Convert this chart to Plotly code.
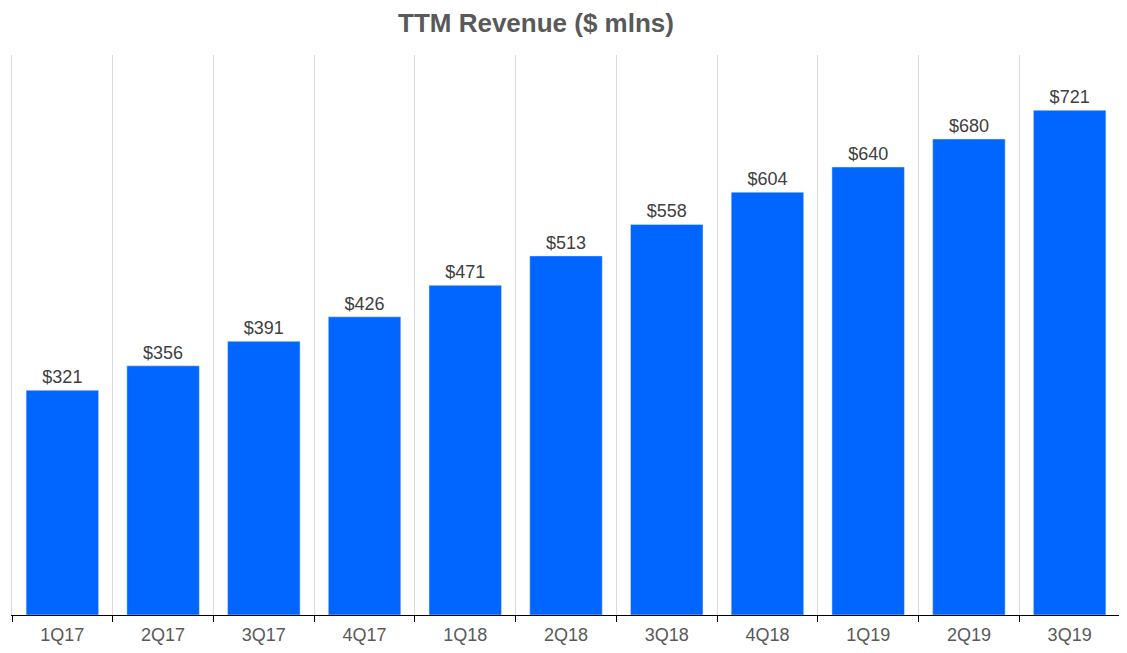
import plotly.graph_objects as go

# TTM revenue by quarter ($ mlns)
quarters = ["1Q17", "2Q17", "3Q17", "4Q17", "1Q18", "2Q18", "3Q18", "4Q18", "1Q19", "2Q19", "3Q19"]
revenue = [321, 356, 391, 426, 471, 513, 558, 604, 640, 680, 721]
labels = ["$" + str(v) for v in revenue]

# page body adds an 8px margin, so the figure is a bit smaller than the window
W, H = 1119, 645

fig = go.Figure()
fig.add_trace(go.Bar(
    x=quarters,
    y=revenue,
    text=labels,
    textposition="outside",
    textfont=dict(size=18, color="#404040"),
    marker_color="#0066FF",
    cliponaxis=False,
))

fig.update_layout(
    width=W,
    height=H,
    # title sits a little left of centre in the original
    title=dict(text="<b>TTM Revenue ($ mlns)</b>", x=528 / W, xanchor="center",
               y=1 - 15 / H, yanchor="middle",
               font=dict(size=26, color="#595959")),
    font=dict(family="Liberation Sans, Arial, sans-serif"),
    plot_bgcolor="white",
    paper_bgcolor="white",
    margin=dict(l=4, r=7, t=47, b=38),
    bargap=0.28,
    showlegend=False,
)
fig.update_xaxes(
    tickson="boundaries",
    showgrid=True,
    gridcolor="#D9D9D9",
    showline=True,
    linecolor="black",
    ticks="outside",
    tickcolor="black",
    ticklen=6,
    ticklabelstandoff=3,
    tickfont=dict(size=18, color="#595959"),
)
# y axis hidden, its lines stand in for the outer grid lines
fig.update_yaxes(range=[0, 800], showgrid=False, showticklabels=False, ticks="",
                 zeroline=False, showline=True, mirror=True, linecolor="#D9D9D9")

fig.write_html("out.html")
